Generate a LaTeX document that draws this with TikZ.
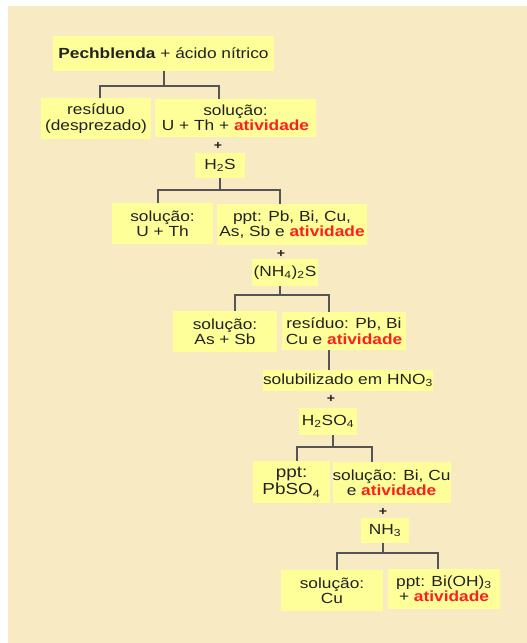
\documentclass[tikz,border=0pt]{standalone}
\usepackage{fontspec}
\setmainfont{Liberation Sans}[FakeStretch=1.18]
\usetikzlibrary{calc}
\definecolor{bgbeige}{HTML}{F8EAC3}
\definecolor{boxyellow}{HTML}{FFFF99}
\definecolor{linegray}{HTML}{555555}
\definecolor{txtgray}{HTML}{222222}
\definecolor{ativred}{HTML}{FF1E1E}
\newcommand{\ativ}{\textcolor{ativred}{\textbf{atividade}}}
\begin{document}
\begin{tikzpicture}[x=0.75pt,y=-0.75pt,
  box/.style 2 args={fill=boxyellow,inner sep=0pt,align=center,text=txtgray,
    font=\fontsize{11}{11.5}\selectfont,minimum width=#1*0.75pt,minimum height=#2*0.75pt},
  plus/.style={inner sep=0pt,text=txtgray,font=\fontsize{9}{9}\selectfont\bfseries},
  link/.style={draw=linegray,line width=1.5pt}]
\useasboundingbox (0,0) rectangle (527,643);
\fill[bgbeige] (8,6) rectangle (527,643);
\node[box={221}{35}] (pech) at (163.5,53.5) {\textbf{Pechblenda} + ácido nítrico};
\node[box={110}{41}] (resid) at (96,118.5) {resíduo\\(desprezado)};
\node[box={161}{38}] (sol1) at (235.5,118) {solução:\\U + Th + \ativ};
\node[plus] (plus1) at (218,146) {+};
\node[box={50}{25}] (hs) at (220,165.5) {H\textsubscript{2}S};
\node[box={101}{41}] (solU) at (162.5,223.5) {solução:\\U + Th};
\node[box={150}{41}] (ppt1) at (292,224.5) {ppt: Pb, Bi, Cu,\\As, Sb e \ativ};
\node[plus] (plus2) at (281,254) {+};
\node[box={66}{27}] (nh4) at (285,272.5) {(NH\textsubscript{4})\textsubscript{2}S};
\node[box={104}{41}] (solAs) at (225,331.5) {solução:\\As + Sb};
\node[box={124}{38}] (res2) at (344,331) {resíduo: Pb, Bi\\Cu e \ativ};
\node[box={170}{21}] (hno) at (348,380.5) {solubilizado em HNO\textsubscript{3}};
\node[plus] (plus3) at (331,399) {+};
\node[box={58}{27}] (hso) at (328,421.5) {H\textsubscript{2}SO\textsubscript{4}};
\node[box={77}{42},font=\fontsize{12}{13}\selectfont] (pbso) at (291.5,482) {ppt:\\PbSO\textsubscript{4}};
\node[box={117}{41}] (sol3) at (391.5,482.5) {solução: Bi, Cu\\e \ativ};
\node[plus] (plus4) at (383,512) {+};
\node[box={48}{25}] (nh3) at (385,530.5) {NH\textsubscript{3}};
\node[box={102}{41}] (solCu) at (332,590.5) {solução:\\Cu};
\node[box={112}{40}] (ppt3) at (444,589) {ppt: Bi(OH)\textsubscript{3}\\+ \ativ};
\draw[link] (pech.south) -- ++(0,15) coordinate (j1);
\draw[link] (resid.north) ++(4,0) |- (j1) -| ($(sol1.north)+(-16.5,0)$);
\draw[link] (hs.south) -- ++(0,12) coordinate (j2);
\draw[link] (solU.north) ++(-4.5,0) |- (j2) -| ($(ppt1.north)+(-12,0)$);
\draw[link] (nh4.south) ++(-5,0) -- ++(0,9) coordinate (j3);
\draw[link] (solAs.north) ++(10,0) |- (j3) -| ($(res2.north)+(-15,0)$);
\draw[link] ($(res2.south)+(-15,0)$) -- ($(hno.north)+(-19,0)$);
\draw[link] (hso.south) ++(5,0) -- ++(0,12) coordinate (j5);
\draw[link] (pbso.north) ++(5.5,0) |- (j5) -| ($(sol3.north)+(-19.5,0)$);
\draw[link] (nh3.south) ++(-2,0) -- ++(0,10) coordinate (j6);
\draw[link] (solCu.north) ++(5,0) |- (j6) -| ($(ppt3.north)+(-6,0)$);
\end{tikzpicture}
\end{document}
